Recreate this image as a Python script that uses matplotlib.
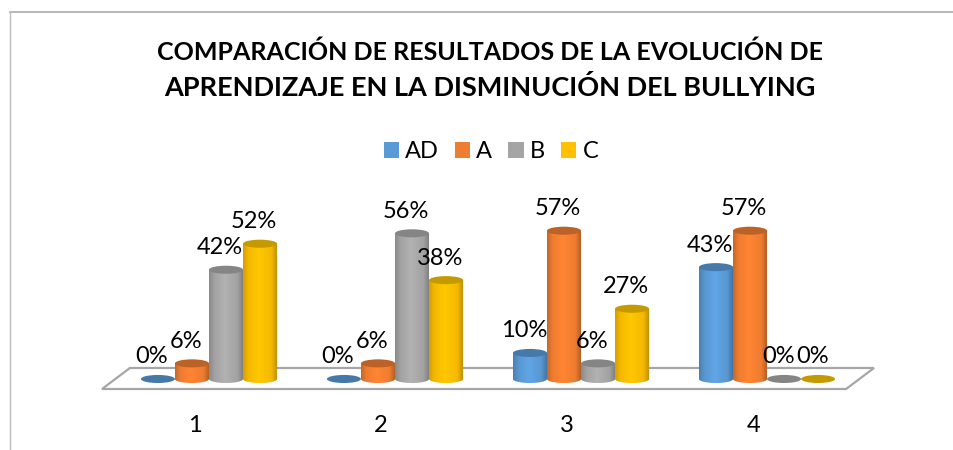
import numpy as np
import matplotlib
matplotlib.use("Agg")
import matplotlib.pyplot as plt
from matplotlib.colors import to_rgb
from matplotlib.lines import Line2D
from matplotlib.patches import Ellipse, Patch, PathPatch, Polygon
from matplotlib.path import Path

plt.rcParams['font.family'] = ['Lato', 'DejaVu Sans']

title_lines = ["COMPARACIÓN DE RESULTADOS DE LA EVOLUCIÓN DE",
               "APRENDIZAJE EN LA DISMINUCIÓN DEL BULLYING"]
categories = ["1", "2", "3", "4"]
series_names = ["AD", "A", "B", "C"]
ad_values = [0, 0, 10, 43]
a_values = [6, 6, 57, 57]
b_values = [42, 56, 6, 0]
c_values = [52, 38, 27, 0]

legend_colors = ['#5B9BD5', '#ED7D31', '#A5A5A5', '#FFC000']
# cylinder shading from left to right (dark edge, body, highlight, body, dark edge)
side_colors = [
    ('#4A80B2', '#5896D0', '#60A6E6', '#5896D0', '#3F6F9C'),
    ('#C5682A', '#EE7C30', '#FF8533', '#EE7C30', '#A95A24'),
    ('#8A8A8A', '#A2A2A2', '#B2B2B2', '#A2A2A2', '#7C7C7C'),
    ('#D49F00', '#F5B800', '#FFC800', '#F5B800', '#B88B00'),
]
top_colors = ['#4679A8', '#BC6227', '#858585', '#C49A00']

W, H = 954, 450
BAR_W = 0.183
ELL_H = 3.1
DEPTH = 0.075  # bars sit halfway into the floor

fig = plt.figure(figsize=(W / 100, H / 100), dpi=100, facecolor='white')
ax = fig.add_axes([102 / W, (H - 389) / H, 772 / W, 209 / H])

# floor of the 3d chart
floor = Polygon([(0.5, -3.85), (4.5, -3.85), (4.65, 4.23), (0.65, 4.23)], closed=True,
                facecolor='white', edgecolor='#A6A6A6', linewidth=1.6, clip_on=False, zorder=1)
ax.add_patch(floor)


def gradient(cols):
    pos = np.linspace(0, 1, 60)
    stops = [0, 0.15, 0.45, 0.82, 1]
    rgb = np.array([to_rgb(c) for c in cols])
    return np.stack([np.interp(pos, stops, rgb[:, k]) for k in range(3)], axis=-1)[None, :, :]


def body_path(x, v):
    # rectangle with a rounded bottom, used to clip the shading
    t = np.linspace(np.pi, 2 * np.pi, 30)
    xs = np.r_[x + BAR_W / 2 * np.cos(t), x + BAR_W / 2, x - BAR_W / 2]
    ys = np.r_[ELL_H / 2 * np.sin(t), v, v]
    return Path(np.column_stack([xs, ys]), closed=False)


all_values = [ad_values, a_values, b_values, c_values]
offsets = [-0.2745, -0.0915, 0.0915, 0.2745]
z = 2
for g in range(len(categories)):
    for s, values in enumerate(all_values):
        v = values[g]
        x = g + 1 + DEPTH + offsets[s]
        if v > 0:
            ax.bar(x, v, BAR_W, color=side_colors[s][2], zorder=z)
            img = ax.imshow(gradient(side_colors[s]), extent=(x - BAR_W / 2, x + BAR_W / 2, -ELL_H, v),
                            aspect='auto', zorder=z + 0.1, interpolation='bilinear')
            clip = PathPatch(body_path(x, v), transform=ax.transData)
            img.set_clip_path(clip)
        ax.add_patch(Ellipse((x, v), BAR_W, ELL_H, facecolor=top_colors[s], edgecolor='none', zorder=z + 0.2))
        z += 1

# data labels go on top of every bar
for g in range(len(categories)):
    for s, values in enumerate(all_values):
        x = g + 1 + DEPTH + offsets[s] - 0.032
        ax.text(x, values[g] + 8.5, f"{values[g]}%", ha='center', va='center', fontsize=17,
                color='black', zorder=100, clip_on=False)

ax.set_xlim(0.5, 4.65)
ax.set_ylim(-3.85, 76.5)
ax.set_xticks(range(1, 5))
ax.set_xticklabels(categories, fontsize=17)
ax.tick_params(axis='x', length=0, pad=19)
ax.set_yticks([])
ax.patch.set_visible(False)
for sp in ax.spines.values():
    sp.set_visible(False)

fig.text(490 / W, 1 - 52 / H, title_lines[0], ha='center', va='center', fontsize=18, fontweight='bold')
fig.text(490 / W, 1 - 88 / H, title_lines[1], ha='center', va='center', fontsize=19.5, fontweight='bold')

handles = [Patch(facecolor=c, edgecolor='none', label=n) for c, n in zip(legend_colors, series_names)]
fig.legend(handles=handles, loc='center', bbox_to_anchor=(491 / W, 1 - 152 / H), ncol=4, frameon=False,
           fontsize=17, handlelength=0.64, handleheight=0.64, handletextpad=0.27, columnspacing=0.68,
           borderpad=0)

# chart frame, only top and left are in the picture
fig.add_artist(Line2D([10 / W, 1], [1 - 12 / H, 1 - 12 / H], color='#ABABAB', linewidth=1.2))
fig.add_artist(Line2D([10 / W, 10 / W], [1 - 12 / H, 0], color='#BDBDBD', linewidth=1))

fig.savefig('out.png', dpi=100)
plt.close()
